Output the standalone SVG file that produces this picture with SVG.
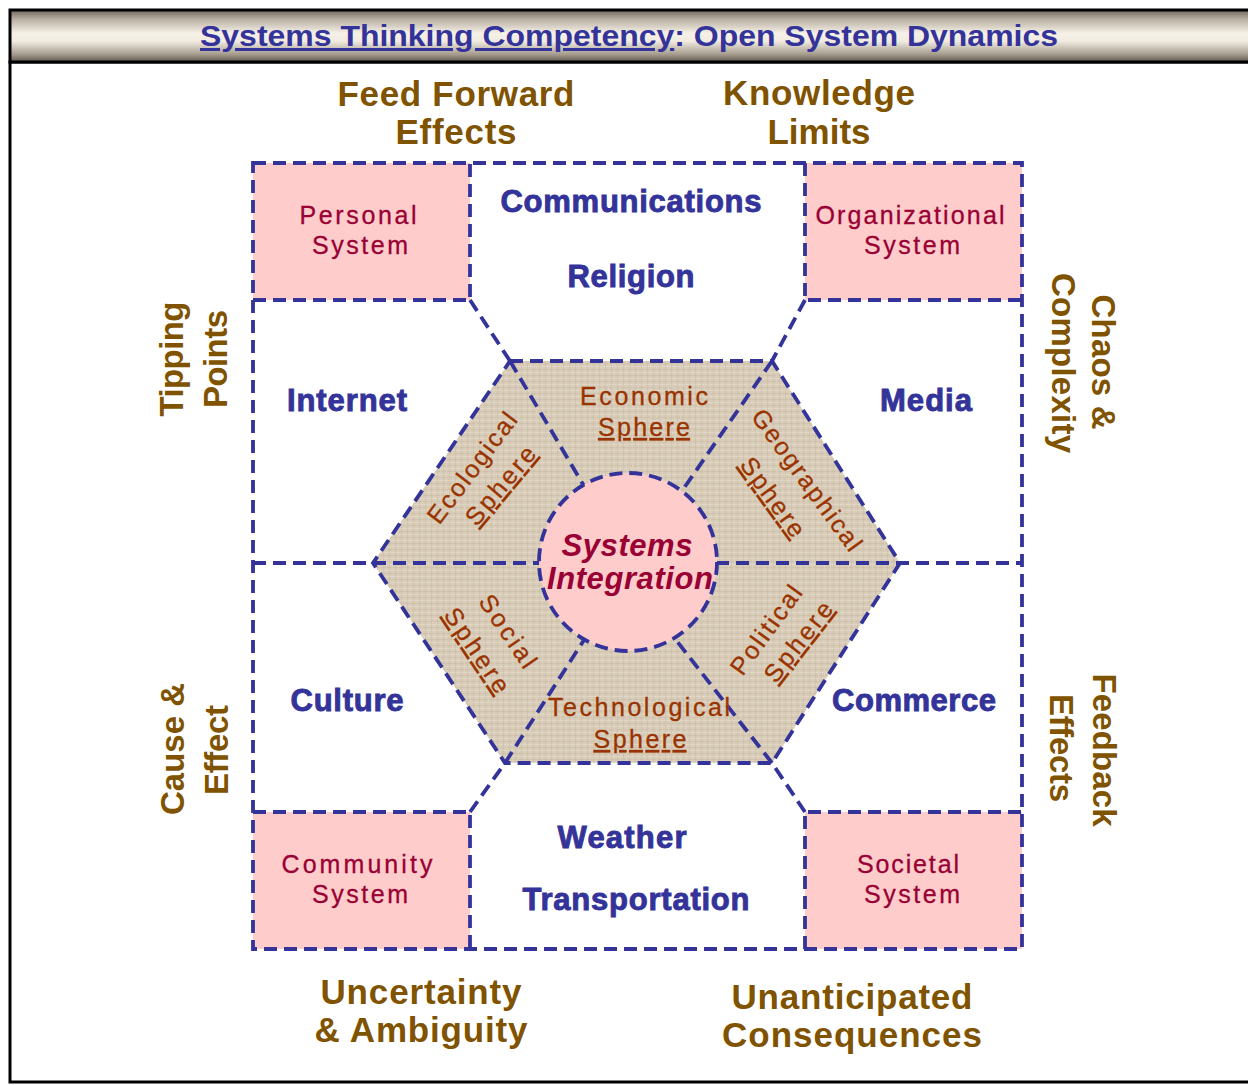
<svg xmlns="http://www.w3.org/2000/svg" width="1248" height="1085" viewBox="0 0 1248 1085">
<defs>
<linearGradient id="barGrad" x1="0" y1="0" x2="0" y2="1">
<stop offset="0" stop-color="#6e675d"/>
<stop offset="0.18" stop-color="#b9b0a2"/>
<stop offset="0.45" stop-color="#f6f1e8"/>
<stop offset="0.6" stop-color="#f1ebe0"/>
<stop offset="0.85" stop-color="#a69d8f"/>
<stop offset="1" stop-color="#5e584f"/>
</linearGradient>
<pattern id="linen" width="6" height="6" patternUnits="userSpaceOnUse">
<rect width="6" height="6" fill="#d8ccb9"/>
<rect x="0" y="0" width="6" height="1" fill="#e2d8c7"/>
<rect x="0" y="3" width="6" height="1" fill="#cfc2ad"/>
<rect x="2" y="0" width="1" height="6" fill="#ddd2c0" opacity="0.7"/>
<rect x="5" y="0" width="1" height="6" fill="#cdbfaa" opacity="0.6"/>
</pattern>
<style>
.dash{fill:none;stroke:#333399;stroke-width:3.8;stroke-dasharray:13 7;}
.pinkfill{fill:#ffcccc;}
.blue{font-family:"Liberation Sans",Arial,sans-serif;font-weight:bold;font-size:31px;fill:#333399;stroke:#333399;stroke-width:0.9;text-anchor:middle;}
.brown{font-family:"Liberation Sans",Arial,sans-serif;font-weight:bold;font-size:35px;fill:#7f5300;text-anchor:middle;}
.side{font-family:"Liberation Sans",Arial,sans-serif;font-weight:bold;font-size:33px;fill:#7f5300;text-anchor:middle;}
.sys{font-family:"Liberation Sans",Arial,sans-serif;font-size:25px;fill:#990033;stroke:#990033;stroke-width:0.3;text-anchor:middle;}
.sph{font-family:"Liberation Sans",Arial,sans-serif;font-size:25px;fill:#993300;stroke:#993300;stroke-width:0.3;text-anchor:middle;}
.ul{text-decoration:underline;}
.center{font-family:"Liberation Sans",Arial,sans-serif;font-weight:bold;font-style:italic;font-size:31px;fill:#990033;text-anchor:middle;}
</style>
</defs>

<g id="frame">
<rect x="10" y="62" width="1250" height="1020" fill="#ffffff" stroke="#000000" stroke-width="3"/>
<rect x="10" y="10" width="1250" height="52" fill="url(#barGrad)" stroke="#000000" stroke-width="3"/>
</g>

<g id="title">
<text x="629" y="46" font-family="'Liberation Sans Narrow','Liberation Sans',Arial,sans-serif" font-weight="bold" font-size="30" fill="#333399" text-anchor="middle" textLength="858" lengthAdjust="spacingAndGlyphs"><tspan class="ul">Systems Thinking Competency</tspan>: Open System Dynamics</text>
</g>

<g id="fills">
<rect class="pinkfill" x="253" y="163" width="217" height="137"/>
<rect class="pinkfill" x="805" y="163" width="217" height="137"/>
<rect class="pinkfill" x="253" y="812" width="217" height="137"/>
<rect class="pinkfill" x="805" y="812" width="217" height="137"/>
<polygon id="hexagon" points="510,361 772,361 900,563 772,763 505,763 373,563" fill="url(#linen)"/>
</g>

<g id="connectors">
<path class="dash" d="M253,163 H1022 V949 H253 Z"/>
<path class="dash" d="M253,300 H470 V163"/>
<path class="dash" d="M805,163 V300 H1022"/>
<path class="dash" d="M253,812 H470 V949"/>
<path class="dash" d="M805,949 V812 H1022"/>
<path class="dash" d="M470,300 L510,361"/>
<path class="dash" d="M805,300 L772,361"/>
<path class="dash" d="M470,812 L505,763"/>
<path class="dash" d="M805,812 L772,763"/>
<path class="dash" d="M510,361 L772,361 L900,563 L772,763 L505,763 L373,563 Z"/>
<path class="dash" d="M253,563 H540"/>
<path class="dash" d="M716,563 H1022"/>
<path class="dash" d="M510,361 L584,486"/>
<path class="dash" d="M772,361 L684,488"/>
<path class="dash" d="M505,763 L584,640"/>
<path class="dash" d="M772,763 L676,640"/>
</g>

<g id="systems-integration">
<circle cx="628" cy="562" r="89" fill="#ffcccc" stroke="#333399" stroke-width="3.8" stroke-dasharray="13 7"/>
<text class="center" x="627" y="556" textLength="131" lengthAdjust="spacing">Systems</text>
<text class="center" x="630" y="589" textLength="166" lengthAdjust="spacing">Integration</text>
</g>

<g id="personal-system">
<text class="sys" x="358" y="224" textLength="117" lengthAdjust="spacing">Personal</text>
<text class="sys" x="360" y="254" textLength="96" lengthAdjust="spacing">System</text>
</g>
<g id="organizational-system">
<text class="sys" x="910" y="224" textLength="189" lengthAdjust="spacing">Organizational</text>
<text class="sys" x="912" y="254" textLength="96" lengthAdjust="spacing">System</text>
</g>
<g id="community-system">
<text class="sys" x="357" y="873" textLength="151" lengthAdjust="spacing">Community</text>
<text class="sys" x="360" y="903" textLength="96" lengthAdjust="spacing">System</text>
</g>
<g id="societal-system">
<text class="sys" x="908" y="873" textLength="102" lengthAdjust="spacing">Societal</text>
<text class="sys" x="912" y="903" textLength="96" lengthAdjust="spacing">System</text>
</g>

<g id="communications-religion">
<text class="blue" x="631" y="212" textLength="261" lengthAdjust="spacing">Communications</text>
<text class="blue" x="631" y="287" textLength="127" lengthAdjust="spacing">Religion</text>
</g>
<g id="internet"><text class="blue" x="347" y="411" textLength="120" lengthAdjust="spacing">Internet</text></g>
<g id="media"><text class="blue" x="926" y="411" textLength="92" lengthAdjust="spacing">Media</text></g>
<g id="culture"><text class="blue" x="347" y="711" textLength="113" lengthAdjust="spacing">Culture</text></g>
<g id="commerce"><text class="blue" x="914" y="711" textLength="164" lengthAdjust="spacing">Commerce</text></g>
<g id="weather-transportation">
<text class="blue" x="622" y="848" textLength="129" lengthAdjust="spacing">Weather</text>
<text class="blue" x="636" y="910" textLength="227" lengthAdjust="spacing">Transportation</text>
</g>

<g id="economic-sphere">
<text class="sph" x="644" y="405" textLength="128" lengthAdjust="spacing">Economic</text>
<text class="sph ul" x="644" y="436" textLength="92" lengthAdjust="spacing">Sphere</text>
</g>
<g id="technological-sphere">
<text class="sph" x="639" y="716" textLength="182" lengthAdjust="spacing">Technological</text>
<text class="sph ul" x="640" y="748" textLength="93" lengthAdjust="spacing">Sphere</text>
</g>
<g id="ecological-sphere">
<text class="sph" transform="translate(479,473) rotate(-53)" textLength="132" lengthAdjust="spacing">Ecological</text>
<text class="sph ul" transform="translate(507,491) rotate(-50)" textLength="95" lengthAdjust="spacing">Sphere</text>
</g>
<g id="geographical-sphere">
<text class="sph" transform="translate(800,485) rotate(54)" textLength="169" lengthAdjust="spacing">Geographical</text>
<text class="sph ul" transform="translate(766,502) rotate(54)" textLength="92" lengthAdjust="spacing">Sphere</text>
</g>
<g id="social-sphere">
<text class="sph" transform="translate(501,636) rotate(56)" textLength="83" lengthAdjust="spacing">Social</text>
<text class="sph ul" transform="translate(470,655) rotate(56)" textLength="97" lengthAdjust="spacing">Sphere</text>
</g>
<g id="political-sphere">
<text class="sph" transform="translate(773,635) rotate(-54)" textLength="104" lengthAdjust="spacing">Political</text>
<text class="sph ul" transform="translate(805,647) rotate(-52)" textLength="95" lengthAdjust="spacing">Sphere</text>
</g>

<g id="feed-forward-effects">
<text class="brown" x="456" y="106" textLength="237" lengthAdjust="spacing">Feed Forward</text>
<text class="brown" x="456" y="144" textLength="121" lengthAdjust="spacing">Effects</text>
</g>
<g id="knowledge-limits">
<text class="brown" x="819" y="105" textLength="192" lengthAdjust="spacing">Knowledge</text>
<text class="brown" x="819" y="144" textLength="103" lengthAdjust="spacing">Limits</text>
</g>
<g id="uncertainty-ambiguity">
<text class="brown" x="421" y="1004" textLength="201" lengthAdjust="spacing">Uncertainty</text>
<text class="brown" x="421" y="1042" textLength="213" lengthAdjust="spacing">&amp; Ambiguity</text>
</g>
<g id="unanticipated-consequences">
<text class="brown" x="852" y="1009" textLength="241" lengthAdjust="spacing">Unanticipated</text>
<text class="brown" x="852" y="1047" textLength="260" lengthAdjust="spacing">Consequences</text>
</g>
<g id="tipping-points">
<text class="side" transform="translate(183,359) rotate(-90)" textLength="115" lengthAdjust="spacing">Tipping</text>
<text class="side" transform="translate(227,359) rotate(-90)" textLength="98" lengthAdjust="spacing">Points</text>
</g>
<g id="cause-effect">
<text class="side" transform="translate(184,749) rotate(-90)" textLength="132" lengthAdjust="spacing">Cause &amp;</text>
<text class="side" transform="translate(228,750) rotate(-90)" textLength="90" lengthAdjust="spacing">Effect</text>
</g>
<g id="chaos-complexity">
<text class="side" transform="translate(1092,362) rotate(90)" textLength="135" lengthAdjust="spacing">Chaos &amp;</text>
<text class="side" transform="translate(1052,363) rotate(90)" textLength="180" lengthAdjust="spacing">Complexity</text>
</g>
<g id="feedback-effects">
<text class="side" transform="translate(1093,750) rotate(90)" textLength="153" lengthAdjust="spacing">Feedback</text>
<text class="side" transform="translate(1050,748) rotate(90)" textLength="108" lengthAdjust="spacing">Effects</text>
</g>
</svg>
